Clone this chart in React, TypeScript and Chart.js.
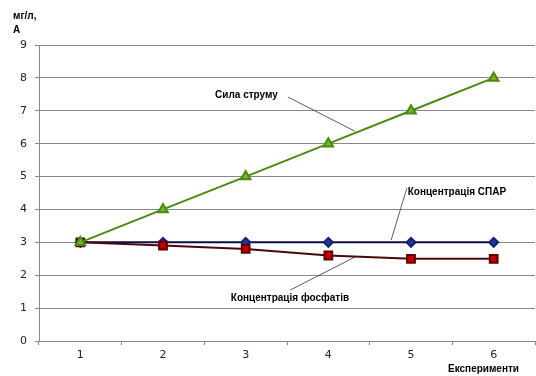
import React, { useEffect, useRef } from "react";
import { Chart, registerables } from "chart.js";

Chart.register(...registerables);

const categories = ["1", "2", "3", "4", "5", "6"];
const currentValues = [3, 4, 5, 6, 7, 8];
const spaValues = [3, 3, 3, 3, 3, 3];
const phosphateValues = [3, 2.9, 2.8, 2.6, 2.5, 2.5];

const labelCurrent = "Сила струму";
const labelSpa = "Концентрація СПАР";
const labelPhosphate = "Концентрація фосфатів";
const yTitle = ["мг/л,", "А"];
const xTitle = "Експерименти";

// annotation anchors in data units
const annotations = [
  { text: labelCurrent, tx: 1.63, ty: 7.48, fx: 2.51, fy: 7.42, ex: 3.32, ey: 6.38 },
  { text: labelSpa, tx: 3.96, ty: 4.53, fx: 3.95, fy: 4.65, ex: 3.76, ey: 3.07 },
  { text: labelPhosphate, tx: 1.82, ty: 1.31, fx: 2.54, fy: 1.55, ex: 3.32, ey: 2.55 },
];

export default function App() {
  const ref = useRef<HTMLCanvasElement>(null);
  useEffect(() => {
    const ctx = ref.current!.getContext("2d")!;
    const annPlugin = {
      id: "ann",
      afterDatasetsDraw(chart: any) {
        const c = chart.ctx;
        const xs = chart.scales.x;
        const ys = chart.scales.y;
        c.save();
        c.font = "bold 10px 'Liberation Sans', Arial, sans-serif";
        c.fillStyle = "#000";
        c.textBaseline = "middle";
        c.textAlign = "left";
        annotations.forEach((a) => {
          c.fillText(a.text, xs.getPixelForValue(a.tx), ys.getPixelForValue(a.ty));
          c.beginPath();
          c.strokeStyle = "#333";
          c.lineWidth = 0.8;
          c.moveTo(xs.getPixelForValue(a.fx), ys.getPixelForValue(a.fy));
          c.lineTo(xs.getPixelForValue(a.ex), ys.getPixelForValue(a.ey));
          c.stroke();
        });
        c.textAlign = "left";
        c.fillText(yTitle[0], 13, 16);
        c.fillText(yTitle[1], 13, 30);
        c.textAlign = "right";
        c.fillText(xTitle, 519, 369);
        c.restore();
      },
    };
    const chart = new Chart(ctx, {
      type: "line",
      data: {
        labels: categories,
        datasets: [
          {
            label: labelCurrent,
            data: currentValues,
            borderColor: "#4a8a12",
            backgroundColor: "#79b52a",
            pointBorderColor: "#4a8a12",
            pointStyle: "triangle",
            pointRadius: 5.5,
            borderWidth: 2,
          },
          {
            label: labelPhosphate,
            data: phosphateValues,
            borderColor: "#4a0808",
            backgroundColor: "#c40000",
            pointBorderColor: "#600000",
            pointStyle: "rect",
            pointRadius: 5.5,
            borderWidth: 2,
          },
          {
            label: labelSpa,
            data: spaValues,
            borderColor: "#0c0c48",
            backgroundColor: "#1e3a9a",
            pointBorderColor: "#14206a",
            pointStyle: "rectRot",
            pointRadius: 4.5,
            borderWidth: 2,
          },
        ],
      },
      options: {
        animation: false,
        responsive: false,
        maintainAspectRatio: false,
        layout: { autoPadding: false, padding: { top: 45, right: 1, left: 0, bottom: 0 } },
        plugins: { legend: { display: false }, tooltip: { enabled: false } },
        scales: {
          x: {
            offset: true,
            border: { color: "#888", width: 1 },
            grid: {
              offset: true,
              drawOnChartArea: false,
              drawTicks: true,
              tickLength: 4,
              color: "#888",
            },
            ticks: {
              color: "#222",
              font: { family: "'DejaVu Sans', sans-serif", size: 11 },
              padding: 4,
            },
            afterFit(s: any) {
              s.height = 35;
            },
          },
          y: {
            min: 0,
            max: 9,
            border: { color: "#888", width: 1 },
            grid: { color: "#888", tickLength: 4 },
            ticks: {
              stepSize: 1,
              color: "#222",
              font: { family: "'DejaVu Sans', sans-serif", size: 11 },
              padding: 8,
            },
            afterFit(s: any) {
              s.width = 39;
            },
          },
        },
      },
      plugins: [annPlugin],
    });
    return () => chart.destroy();
  }, []);
  return (
    <div style={{ position: "fixed", left: 0, top: 0, width: 536, height: 376, background: "#fff" }}>
      <canvas ref={ref} width={536} height={376} style={{ width: 536, height: 376 }} />
    </div>
  );
}
